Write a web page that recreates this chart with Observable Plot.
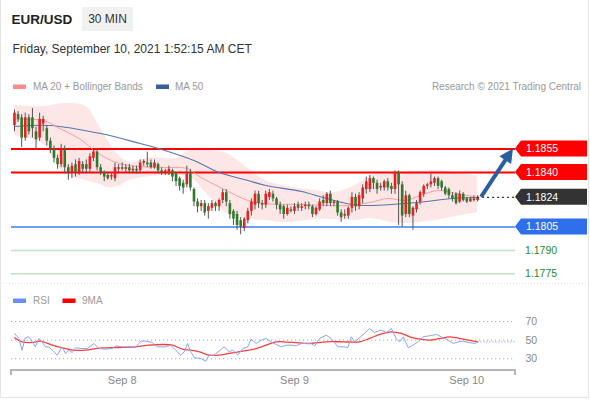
<!DOCTYPE html>
<html>
<head>
<meta charset="utf-8">
<script src="https://cdn.jsdelivr.net/npm/d3@7"></script>
<script src="https://cdn.jsdelivr.net/npm/@observablehq/plot@0.6"></script>
<style>
html,body{margin:0;padding:0;background:#fff;}
#wrap{position:relative;width:590px;height:400px;overflow:hidden;font-family:"Liberation Sans",Arial,Helvetica,sans-serif;}
#bg{position:absolute;left:0;top:0;}
#main{position:absolute;left:0;top:95px;}
#rsi{position:absolute;left:0;top:305px;}
</style>
</head>
<body>
<div id="wrap">
<svg id="bg" width="590" height="400"></svg>
<div id="main"></div>
<div id="rsi"></div>
</div>
<script>
// ---------- header texts ----------
const symbol = "EUR/USD";
const timeframe = "30 MIN";
const dateLine = "Friday, September 10, 2021 1:52:15 AM CET";
const credit = "Research © 2021 Trading Central";
const legendMain = ["MA 20 + Bollinger Bands", "MA 50"];
const legendRsi = ["RSI", "9MA"];

// ---------- candles (30 min, from Sep 7 09:00) ----------
const opens = [1.1870,1.1877,1.1875,1.1862,1.1875,1.1875,1.1866,1.1862,1.1871,1.1868,
1.1860,1.1855,1.1849,1.1845,1.1855,1.1843,1.1840,1.1845,1.1840,1.1845,
1.1845,1.1842,1.1849,1.1853,1.1843,1.1840,1.1838,1.1837,1.1836,1.1842,
1.1843,1.1842,1.1843,1.1841,1.1842,1.1841,1.1846,1.1846,1.1846,1.1843,
1.1845,1.1841,1.1840,1.1839,1.1841,1.1839,1.1836,1.1833,1.1832,1.1839,
1.1829,1.1821,1.1818,1.1820,1.1815,1.1817,1.1820,1.1818,1.1822,1.1827,
1.1820,1.1815,1.1813,1.1809,1.1804,1.1809,1.1815,1.1819,1.1826,1.1820,
1.1819,1.1824,1.1826,1.1823,1.1819,1.1818,1.1813,1.1816,1.1815,1.1819,
1.1817,1.1818,1.1819,1.1818,1.1813,1.1816,1.1822,1.1820,1.1826,1.1820,
1.1821,1.1814,1.1812,1.1812,1.1817,1.1824,1.1818,1.1823,1.1829,1.1829,
1.1836,1.1833,1.1830,1.1830,1.1834,1.1831,1.1829,1.1840,1.1832,1.1813,
1.1825,1.1812,1.1816,1.1821,1.1826,1.1831,1.1832,1.1833,1.1836,1.1834,
1.1830,1.1829,1.1825,1.1826,1.1821,1.1826,1.1823,1.1821,1.1823,1.1822];
const highs = [1.1880,1.1879,1.1877,1.1878,1.1877,1.1881,1.1869,1.1878,1.1876,1.1870,
1.1862,1.1857,1.1851,1.1858,1.1857,1.1845,1.1846,1.1848,1.1849,1.1847,
1.1848,1.1852,1.1855,1.1854,1.1845,1.1841,1.1840,1.1839,1.1846,1.1845,
1.1846,1.1845,1.1845,1.1844,1.1844,1.1848,1.1848,1.1853,1.1848,1.1848,
1.1846,1.1843,1.1842,1.1844,1.1842,1.1840,1.1837,1.1835,1.1844,1.1842,
1.1830,1.1823,1.1822,1.1822,1.1820,1.1822,1.1821,1.1823,1.1829,1.1829,
1.1822,1.1816,1.1815,1.1811,1.1811,1.1817,1.1823,1.1828,1.1828,1.1822,
1.1828,1.1829,1.1828,1.1824,1.1821,1.1819,1.1819,1.1818,1.1820,1.1821,
1.1820,1.1821,1.1821,1.1819,1.1818,1.1823,1.1825,1.1827,1.1828,1.1822,
1.1822,1.1816,1.1816,1.1818,1.1827,1.1826,1.1827,1.1832,1.1837,1.1838,
1.1837,1.1835,1.1833,1.1835,1.1836,1.1833,1.1841,1.1841,1.1834,1.1828,
1.1826,1.1818,1.1822,1.1828,1.1832,1.1833,1.1839,1.1837,1.1837,1.1835,
1.1831,1.1830,1.1827,1.1827,1.1828,1.1827,1.1824,1.1824,1.1825,1.1825];
const lows = [1.1866,1.1872,1.1856,1.1860,1.1864,1.1862,1.1855,1.1860,1.1866,1.1857,
1.1852,1.1846,1.1842,1.1843,1.1839,1.1835,1.1836,1.1837,1.1838,1.1840,
1.1839,1.1840,1.1847,1.1841,1.1838,1.1834,1.1835,1.1835,1.1834,1.1840,
1.1841,1.1840,1.1840,1.1839,1.1839,1.1840,1.1844,1.1843,1.1842,1.1842,
1.1839,1.1838,1.1838,1.1838,1.1834,1.1831,1.1828,1.1826,1.1830,1.1828,
1.1818,1.1814,1.1815,1.1812,1.1810,1.1815,1.1815,1.1815,1.1820,1.1818,
1.1810,1.1806,1.1803,1.1800,1.1802,1.1807,1.1812,1.1816,1.1817,1.1816,
1.1817,1.1822,1.1821,1.1816,1.1813,1.1810,1.1812,1.1814,1.1813,1.1815,
1.1815,1.1816,1.1816,1.1811,1.1812,1.1815,1.1818,1.1818,1.1818,1.1818,
1.1812,1.1808,1.1810,1.1810,1.1814,1.1815,1.1816,1.1820,1.1826,1.1827,
1.1829,1.1826,1.1828,1.1828,1.1828,1.1826,1.1826,1.1806,1.1805,1.1811,
1.1811,1.1803,1.1814,1.1819,1.1824,1.1829,1.1830,1.1831,1.1829,1.1828,
1.1825,1.1823,1.1821,1.1819,1.1820,1.1821,1.1820,1.1821,1.1821,1.1821];
const closes = [1.1878,1.1874,1.1862,1.1875,1.1866,1.1868,1.1861,1.1874,1.1874,1.1860,
1.1855,1.1849,1.1845,1.1855,1.1843,1.1840,1.1844,1.1840,1.1847,1.1842,
1.1842,1.1850,1.1853,1.1843,1.1840,1.1837,1.1836,1.1838,1.1843,1.1843,
1.1842,1.1843,1.1841,1.1842,1.1841,1.1846,1.1847,1.1845,1.1843,1.1846,
1.1841,1.1840,1.1841,1.1842,1.1837,1.1834,1.1831,1.1830,1.1839,1.1830,
1.1821,1.1818,1.1820,1.1814,1.1818,1.1820,1.1818,1.1822,1.1827,1.1821,
1.1813,1.1810,1.1806,1.1805,1.1810,1.1815,1.1821,1.1826,1.1820,1.1819,
1.1826,1.1827,1.1823,1.1819,1.1816,1.1813,1.1817,1.1815,1.1818,1.1817,
1.1818,1.1819,1.1818,1.1813,1.1817,1.1821,1.1820,1.1826,1.1820,1.1821,
1.1814,1.1811,1.1813,1.1817,1.1824,1.1818,1.1825,1.1830,1.1834,1.1836,
1.1833,1.1829,1.1831,1.1834,1.1830,1.1829,1.1840,1.1832,1.1812,1.1825,
1.1813,1.1817,1.1820,1.1827,1.1831,1.1832,1.1834,1.1836,1.1831,1.1830,
1.1826,1.1825,1.1823,1.1820,1.1826,1.1822,1.1821,1.1823,1.1822,1.1824];

// ---------- indicators (candle index, value) ----------
const ma50K = [0,10,24,35,41,50,57,65,70,80,86,94,99,112,122,129];
const ma50V = [1.18694,1.18701,1.18649,1.18585,1.18547,1.18476,1.18399,1.18348,1.18316,1.18278,1.18239,1.18194,1.18188,1.18207,1.18233,1.18239];
const ma20K = [0,8,12,18,23,27,32,43,48,52,59,65,69,80,93,99,104,109,113,118,123,129];
const ma20V = [1.18739,1.18733,1.18688,1.18617,1.18528,1.18476,1.18444,1.18431,1.18425,1.18367,1.18284,1.18220,1.18201,1.18194,1.18188,1.18207,1.18233,1.18220,1.18252,1.18284,1.18265,1.18239];
const bandK  = [0,8,14,20,23,26,29,32,38,45,49,54,59,64,70,76,84,89,95,99,108,117,123,129];
const bandUp = [1.18829,1.18822,1.18842,1.18822,1.18720,1.18604,1.18508,1.18463,1.18495,1.18489,1.18540,1.18540,1.18521,1.18444,1.18348,1.18310,1.18284,1.18271,1.18316,1.18374,1.18399,1.18412,1.18399,1.18374];
const bandLo = [1.18637,1.18580,1.18393,1.18348,1.18329,1.18303,1.18310,1.18348,1.18374,1.18380,1.18367,1.18252,1.18137,1.18105,1.18092,1.18079,1.18098,1.18098,1.18092,1.18105,1.18072,1.18092,1.18117,1.18143];

// ---------- levels ----------
const resistLevels = [1.1855, 1.1840];
const lastPrice = 1.1824;
const pivotLevel = 1.1805;
const supportLevels = [1.1790, 1.1775];

// ---------- RSI panel ----------
const rsiK = [0,1.2,2.1,3.0,4.0,4.9,5.8,6.8,7.7,8.6,9.6,11.0,11.9,13.3,14.2,15.1,16.1,17.0,18.4,20.3,22.1,23.5,25.4,27.2,28.2,30.0,31.9,33.8,35.2,36.6,38.4,39.8,42.1,43.5,44.9,46.3,47.3,48.2,49.1,50.1,51.9,53.3,54.2,55.6,57.0,58.4,59.8,60.8,62.2,63.6,65.0,65.9,67.3,68.7,70.1,71.5,72.9,74.3,75.7,77.1,78.5,79.9,81.3,82.6,83.6,85.0,86.8,88.2,90.1,91.5,92.9,93.8,94.8,96.1,97.5,98.9,100.3,102.2,103.6,105.0,106.4,107.3,108.3,109.7,111.0,112.4,113.8,115.7,117.6,119.4,120.8,122.2,123.6,125.0,126.4,128.3,129];
const rsiV = [57.2,51.8,39.2,52.5,53.6,48.2,42.8,51.8,48.2,42.8,42.8,37.5,33.9,42.8,35.7,39.2,36.7,41.8,41.0,41.0,46.4,41.0,40.3,41.0,43.9,42.8,42.8,42.8,48.9,48.9,47.5,42.8,42.8,44.6,39.2,33.9,37.5,46.4,37.5,31.0,30.3,27.4,33.9,33.9,38.2,42.8,37.5,39.2,33.9,41.0,42.8,51.1,46.4,50.0,51.8,48.2,45.3,42.8,44.6,44.6,43.9,46.4,46.4,46.4,43.9,51.8,55.4,51.8,42.8,42.8,42.1,53.6,48.2,52.5,57.2,62.5,58.2,60.8,58.2,62.5,51.1,48.2,53.6,41.8,44.6,48.2,53.6,54.7,56.1,52.5,50.0,46.4,48.2,48.9,47.5,46.4,48.2];
const ma9K = [0,2.1,4.9,7.2,10.5,13.3,16.5,19.8,22.6,25.4,29.1,33.8,37.5,41.2,44.0,46.8,49.1,51.5,54.2,57.0,59.8,63.6,67.3,70.1,72.9,77.5,82.2,86.8,91.5,96.1,98.9,101.7,105.0,107.8,110.1,112.9,115.7,118.5,121.3,125.0,127.8,129];
const ma9V = [52.5,48.2,47.5,48.9,44.6,41.8,39.2,39.2,41.0,41.8,42.1,42.8,44.6,45.3,44.6,40.3,39.2,37.5,33.9,33.9,35.7,38.2,41.0,44.6,48.2,47.5,46.4,48.2,48.2,48.2,51.8,56.1,58.9,57.2,53.6,51.1,50.0,51.8,53.6,51.1,48.9,48.2];
const rsiLevels = [30, 50, 70];
const dayTicks = [new Date(Date.UTC(2021,8,8)), new Date(Date.UTC(2021,8,9)), new Date(Date.UTC(2021,8,10))];

// ---------- build ----------
const FONT = "Liberation Sans, Arial, Helvetica, sans-serif";
const T0 = Date.UTC(2021, 8, 7, 9, 0);
const STEP = 30 * 60 * 1000;
const tk = k => new Date(T0 + k * STEP);
const xDomain = [new Date(Date.UTC(2021,8,7,8,35)), new Date(Date.UTC(2021,8,10,6,47))];

const candles = opens.map((o, k) => ({t: tk(k), o, h: highs[k], l: lows[k], c: closes[k]}));
const upC = candles.filter(d => d.c >= d.o);
const dnC = candles.filter(d => d.c < d.o);
const ma50 = ma50K.map((k, i) => ({t: tk(k), v: ma50V[i]}));
const ma20 = ma20K.map((k, i) => ({t: tk(k), v: ma20V[i]}));
const band = bandK.map((k, i) => ({t: tk(k), up: bandUp[i], lo: bandLo[i]}));
const rsi = rsiK.map((k, i) => ({t: tk(k), v: rsiV[i]}));
const ma9 = ma9K.map((k, i) => ({t: tk(k), v: ma9V[i]}));
const lastT = tk(candles.length - 1);

const main = Plot.plot({
  width: 590, height: 190,
  marginLeft: 11, marginRight: 75, marginTop: 0, marginBottom: 0,
  x: {type: "utc", domain: xDomain, axis: null},
  y: {domain: [1.17675, 1.18893], axis: null},
  style: {background: "transparent", overflow: "visible", fontFamily: FONT},
  marks: [
    Plot.areaY(band, {x: "t", y1: "lo", y2: "up", fill: "#fde6e6", curve: "catmull-rom"}),
    Plot.ruleY(supportLevels, {stroke: "#c2e0c2", strokeWidth: 1.5}),
    Plot.ruleY([pivotLevel], {stroke: "#3d7ff0", strokeWidth: 1.5}),
    Plot.ruleY(resistLevels, {stroke: "#ff0000", strokeWidth: 2}),
    Plot.line(ma50, {x: "t", y: "v", stroke: "#5676ad", strokeWidth: 1.1, curve: "catmull-rom"}),
    Plot.line(ma20, {x: "t", y: "v", stroke: "#f6a0a0", strokeWidth: 1, curve: "catmull-rom"}),
    Plot.ruleX(candles, {x: "t", y1: "l", y2: "h", stroke: "#555", strokeWidth: 1}),
    Plot.ruleX(upC, {x: "t", y1: "o", y2: "c", stroke: "#e8201f", strokeWidth: 2.6}),
    Plot.ruleX(dnC, {x: "t", y1: "o", y2: "c", stroke: "#2d7a2d", strokeWidth: 2.6}),
    Plot.ruleY([{y: lastPrice, x1: lastT, x2: xDomain[1]}], {y: "y", x1: "x1", x2: "x2", stroke: "#333", strokeDasharray: "2 3", strokeWidth: 1.3})
  ]
});
document.getElementById("main").appendChild(main);

// tags, labels, arrow via the plot's own scales
{
  const sx = main.scale("x"), sy = main.scale("y");
  const svg = d3.select(main);
  const xr = sx.apply(xDomain[1]);
  const fmt = d3.format(".4f");
  const tags = [
    {v: resistLevels[0], fill: "#ff0000"},
    {v: resistLevels[1], fill: "#ff0000"},
    {v: lastPrice, fill: "#333333"},
    {v: pivotLevel, fill: "#2f6fec"}
  ];
  const g = svg.append("g").attr("text-anchor", "start").attr("font-family", FONT);
  tags.forEach(d => {
    const y = sy.apply(d.v);
    g.append("polygon")
      .attr("points", `${xr},${y} ${xr+6},${y-8} ${xr+72},${y-8} ${xr+72},${y+8} ${xr+6},${y+8}`)
      .attr("fill", d.fill);
    g.append("text").attr("x", xr + 11).attr("y", y + 3.8).attr("text-anchor", "start")
      .attr("fill", "#fff").attr("font-size", 10.5).text(fmt(d.v));
  });
  supportLevels.forEach(v => {
    const y = sy.apply(v);
    g.append("text").attr("x", xr + 10).attr("y", y + 3.8).attr("text-anchor", "start")
      .attr("fill", "#2a8a2a").attr("font-size", 10.5).text(fmt(v));
  });
  // arrow
  const p0 = [sx.apply(lastT) + 4, sy.apply(lastPrice)];
  const p1 = [xr - 2, sy.apply(resistLevels[0])];
  const dx = p1[0] - p0[0], dy = p1[1] - p0[1], L = Math.hypot(dx, dy);
  const ux = dx / L, uy = dy / L, px = -uy, py = ux;
  const hl = 14, hw = 7;
  const bx = p1[0] - ux * hl, by = p1[1] - uy * hl;
  g.append("line").attr("x1", p0[0]).attr("y1", p0[1]).attr("x2", bx + ux).attr("y2", by + uy)
    .attr("stroke", "#2c5d9c").attr("stroke-width", 4);
  g.append("polygon")
    .attr("points", `${p1[0]},${p1[1]} ${bx + px*hw},${by + py*hw} ${bx - px*hw},${by - py*hw}`)
    .attr("fill", "#2c5d9c");
}

const rsiDomain = [17.4, 80];
const rsiPlot = Plot.plot({
  width: 590, height: 95,
  marginLeft: 11, marginRight: 75, marginTop: 6.7, marginBottom: 30,
  x: {type: "utc", domain: xDomain, axis: null},
  y: {domain: rsiDomain, axis: null},
  style: {background: "transparent", overflow: "visible", fontFamily: FONT},
  marks: [
    Plot.ruleY(rsiLevels, {stroke: "#aaa", strokeDasharray: "1.2 2.8"}),
    Plot.ruleY([{y: rsiV[rsiV.length - 1], x1: lastT, x2: xDomain[1]}], {y: "y", x1: "x1", x2: "x2", stroke: "#9db2ee", strokeDasharray: "1.5 1.5"}),
    Plot.line(ma9, {x: "t", y: "v", stroke: "#ff3b3b", strokeWidth: 1.3, curve: "catmull-rom"}),
    Plot.line(rsi, {x: "t", y: "v", stroke: "#8aa5f2", strokeWidth: 1}),
    Plot.text(rsiLevels.map(v => ({v, t: xDomain[1]})), {x: "t", y: "v", text: d => String(d.v), dx: 10, textAnchor: "start", fill: "#888", fontSize: 10.5}),
    Plot.text(dayTicks, {x: d => d, frameAnchor: "bottom", dy: 13, text: d3.utcFormat("%b %-d"), fill: "#888", fontSize: 11})
  ]
});
document.getElementById("rsi").appendChild(rsiPlot);
{
  const sx = rsiPlot.scale("x"), sy = rsiPlot.scale("y");
  const x0 = sx.apply(xDomain[0]), x1 = sx.apply(xDomain[1]), y0 = sy.apply(rsiDomain[0]);
  d3.select(rsiPlot).append("path")
    .attr("d", `M${x0},${y0 + 5}V${y0}H${x1}V${y0 + 5}`)
    .attr("fill", "none").attr("stroke", "#b5b5b5").attr("stroke-width", 2);
}

// ---------- background: header, legends, frame ----------
{
  const bg = d3.select("#bg").attr("font-family", FONT);
  bg.append("path").attr("d", "M0.5,0V397.5H588.5V0").attr("fill", "none").attr("stroke", "#e6e6e6");
  bg.append("text").attr("x", 11.5).attr("y", 24).attr("font-size", 13.5).attr("font-weight", "bold").attr("fill", "#222").text(symbol);
  bg.append("rect").attr("x", 82).attr("y", 7).attr("width", 51).attr("height", 24).attr("fill", "#f1f1f1");
  bg.append("text").attr("x", 107.5).attr("y", 23.3).attr("text-anchor", "middle").attr("font-size", 12).attr("fill", "#333").text(timeframe);
  bg.append("text").attr("x", 12.5).attr("y", 53).attr("font-size", 12).attr("fill", "#333").text(dateLine);
  bg.append("rect").attr("x", 13).attr("y", 84.5).attr("width", 13).attr("height", 4.5).attr("fill", "#ff8a8a");
  bg.append("text").attr("x", 33).attr("y", 90).attr("font-size", 10).attr("fill", "#999").text(legendMain[0]);
  bg.append("rect").attr("x", 156).attr("y", 84.5).attr("width", 13).attr("height", 4.5).attr("fill", "#3b5ea0");
  bg.append("text").attr("x", 175).attr("y", 90).attr("font-size", 10).attr("fill", "#999").text(legendMain[1]);
  bg.append("text").attr("x", 581).attr("y", 89.5).attr("text-anchor", "end").attr("font-size", 10).attr("fill", "#999").text(credit);
  bg.append("line").attr("x1", 0).attr("x2", 588).attr("y1", 283.5).attr("y2", 283.5).attr("stroke", "#e2e2e2").attr("stroke-dasharray", "1 2");
  bg.append("rect").attr("x", 13).attr("y", 298.5).attr("width", 13).attr("height", 4.5).attr("fill", "#6a8ff0");
  bg.append("text").attr("x", 33).attr("y", 304).attr("font-size", 10).attr("fill", "#999").text(legendRsi[0]);
  bg.append("rect").attr("x", 62.5).attr("y", 298.5).attr("width", 13).attr("height", 4.5).attr("fill", "#ff0000");
  bg.append("text").attr("x", 82).attr("y", 304).attr("font-size", 10).attr("fill", "#999").text(legendRsi[1]);
}
</script>
</body>
</html>
